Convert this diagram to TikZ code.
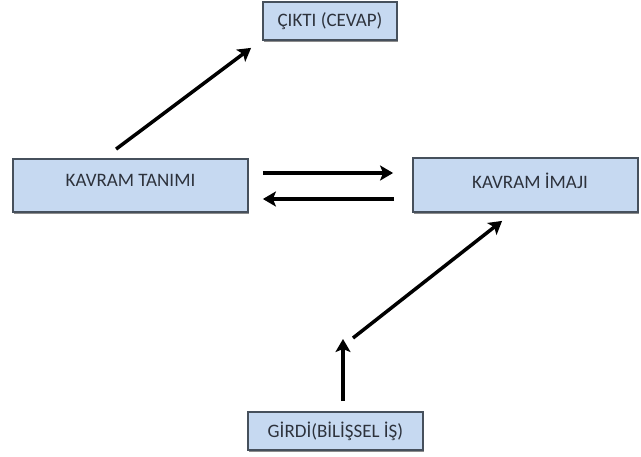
\documentclass[tikz,border=0pt]{standalone}
\usepackage{fontspec}
\setmainfont{Carlito}
\usetikzlibrary{arrows.meta,shadows}
\definecolor{boxfill}{RGB}{198,217,241}
\definecolor{boxline}{RGB}{70,80,92}
\definecolor{txt}{RGB}{45,50,60}
\begin{document}
\begin{tikzpicture}[x=1pt,y=-1pt,
  box/.style={draw=boxline, line width=1.8pt, fill=boxfill, inner sep=0pt,
    text=txt, font=\fontsize{19}{22}\selectfont,
    drop shadow={shadow xshift=1.2pt, shadow yshift=-1.8pt, opacity=0.45, fill=black}},
  arr/.style={draw=black, line width=3.5pt, -{Stealth[length=13pt,width=15pt,inset=3pt]}}]
\useasboundingbox[fill=white] (0,0) rectangle (641,456);
\node[box, minimum width=134pt, minimum height=38pt] (cikti) at (330,21) {ÇIKTI (CEVAP)};
\node[box, minimum width=235pt, minimum height=53pt, text height=13pt, text depth=12pt] (tanim) at (130.5,185.5) {KAVRAM TANIMI};
\node[box, minimum width=225pt, minimum height=54pt, text height=13pt, text depth=7pt] (imaj) at (525.5,185) {\hspace*{9pt}KAVRAM İMAJI};
\node[box, minimum width=175pt, minimum height=38pt] (girdi) at (335.5,431) {GİRDİ(BİLİŞSEL İŞ)};
\coordinate (mid) at (343,339);
\draw[arr] ([shift={(104,-9)}]tanim.north west) -- ([shift={(-11,7)}]cikti.south west);
\draw[arr] ([shift={(14,-12.5)}]tanim.east) -- ([shift={(-19,-12)}]imaj.west);
\draw[arr] ([shift={(-18,14)}]imaj.west) -- ([shift={(14,13.5)}]tanim.east);
\draw[arr] ([shift={(7.5,-10)}]girdi.north) -- (mid);
\draw[arr] ([shift={(10,-1)}]mid) -- ([shift={(90,8)}]imaj.south west);
\end{tikzpicture}
\end{document}
